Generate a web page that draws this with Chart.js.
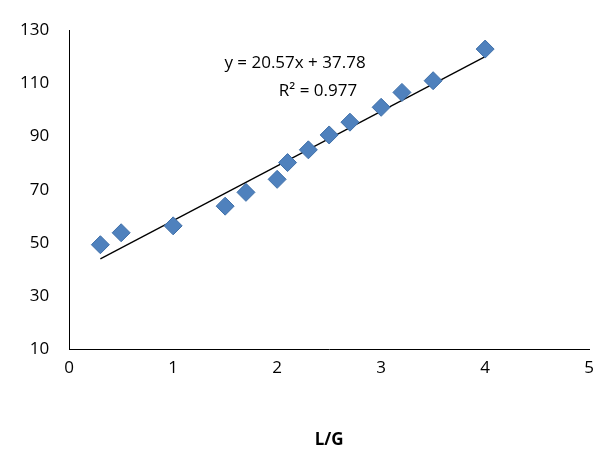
<!DOCTYPE html>
<html><head><meta charset="utf-8">
<script src="https://cdn.jsdelivr.net/npm/chart.js@4"></script>
<style>html,body{margin:0;background:#fff}#w{width:603px;height:454px}</style>
</head><body><div id="w"><canvas id="c"></canvas></div>
<script>
const xVals=[0.3,0.5,1.0,1.5,1.7,2.0,2.1,2.3,2.5,2.7,3.0,3.2,3.5,4.0];
const yVals=[49.3,53.8,56.4,63.8,69,73.9,80.2,85,90.6,95.4,101,106.6,111,122.9];
const slope=20.57, intercept=37.78;
const trendX=[0.3,4.0];
const eqText=["y = 20.57x + 37.78","R² = 0.977"];
const F="'Open Sans', 'Liberation Sans', sans-serif";
const labelPlugin={id:'lbl',afterDatasetsDraw(ch){
  const c=ch.ctx;c.save();c.fillStyle='#000';c.font="17px "+F;c.textAlign='center';c.textBaseline='middle';
  c.fillText(eqText[0],295,63);c.fillText(eqText[1],318,91);c.restore();}};
new Chart(document.getElementById('c'),{
  type:'scatter',
  data:{datasets:[
    {data:xVals.map((x,i)=>({x,y:yVals[i]})),pointStyle:'rectRot',pointRadius:9,pointHoverRadius:9,
     backgroundColor:'#4f81bd',borderColor:'#3f6fa8',borderWidth:1},
    {type:'line',data:trendX.map(x=>({x,y:slope*x+intercept})),borderColor:'#000',borderWidth:1.3,pointRadius:0,fill:false}
  ]},
  options:{animation:false,responsive:true,maintainAspectRatio:false,
    layout:{padding:{left:0,right:-8,top:5,bottom:0}},
    plugins:{legend:{display:false},tooltip:{enabled:false}},
    scales:{
      x:{type:'linear',min:0,max:5,ticks:{stepSize:1,color:'#000',font:{size:17,family:F},padding:9},
        grid:{display:false,drawTicks:false},border:{color:'#000'},
        title:{display:true,text:'L/G',color:'#000',font:{size:17,weight:'bold',family:F},padding:{top:42}}},
      y:{min:10,max:130,ticks:{stepSize:20,color:'#000',font:{size:17,family:F},padding:20},
        grid:{display:false,drawTicks:false},border:{color:'#000'}}
    }},
  plugins:[labelPlugin]
});
</script></body></html>
